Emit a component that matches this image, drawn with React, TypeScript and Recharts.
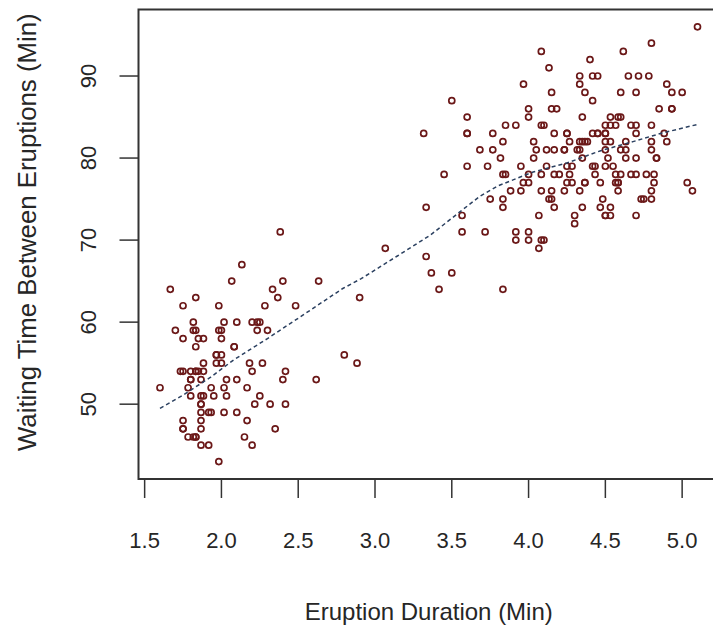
import React from 'react';
import { ScatterChart, Scatter, XAxis, YAxis, ReferenceArea, Label } from 'recharts';

// Old Faithful: eruption duration (min) and waiting time (min)
const eruptions = [
  3.6, 1.8, 3.333, 2.283, 4.533, 2.883, 4.7, 3.6, 1.95, 4.35, 1.833, 3.917, 4.2, 1.75, 4.7, 2.167, 1.75, 4.8, 1.6, 4.25,
  1.8, 1.75, 3.45, 3.067, 4.533, 3.6, 1.967, 4.083, 3.85, 4.433, 4.3, 4.467, 3.367, 4.033, 3.833, 2.017, 1.867, 4.833, 1.833, 4.783,
  4.35, 1.883, 4.567, 1.75, 4.533, 3.317, 3.833, 2.1, 4.633, 2.0, 4.8, 4.716, 1.833, 4.833, 1.733, 4.883, 3.717, 1.667, 4.567, 4.317,
  2.233, 4.5, 1.75, 4.8, 1.817, 4.4, 4.167, 4.7, 2.067, 4.7, 4.033, 1.967, 4.5, 4.0, 1.983, 5.067, 2.017, 4.567, 3.883, 3.6,
  4.133, 4.333, 4.1, 2.633, 4.067, 4.933, 3.95, 4.517, 2.167, 4.0, 2.2, 4.333, 1.867, 4.817, 1.833, 4.3, 4.667, 3.75, 1.867, 4.9,
  2.483, 4.367, 2.1, 4.5, 4.05, 1.867, 4.7, 1.783, 4.85, 3.683, 4.733, 2.3, 4.9, 4.417, 1.7, 4.633, 2.317, 4.6, 1.817, 4.417,
  2.617, 4.067, 4.25, 1.967, 4.6, 3.767, 1.917, 4.5, 2.267, 4.65, 1.867, 4.167, 2.8, 4.333, 1.833, 4.383, 1.883, 4.933, 2.033, 3.733,
  4.233, 2.233, 4.533, 4.817, 4.333, 1.983, 4.633, 2.017, 5.1, 1.8, 5.033, 4.0, 2.4, 4.6, 3.567, 4.0, 4.5, 4.083, 1.8, 3.967,
  2.2, 4.15, 2.0, 3.833, 3.5, 4.583, 2.367, 5.0, 1.933, 4.617, 1.917, 2.083, 4.583, 3.333, 4.167, 4.333, 4.5, 2.417, 4.0, 4.167,
  1.883, 4.583, 4.25, 3.767, 2.033, 4.433, 4.083, 1.833, 4.417, 2.183, 4.8, 1.833, 4.8, 4.1, 3.966, 4.233, 3.5, 4.366, 2.25, 4.667,
  2.1, 4.35, 4.133, 1.867, 4.6, 1.783, 4.367, 3.85, 1.933, 4.5, 2.383, 4.7, 1.867, 3.833, 3.417, 4.233, 2.4, 4.8, 2.0, 4.15,
  1.867, 4.267, 1.75, 4.483, 4.0, 4.117, 4.083, 4.267, 3.917, 4.55, 4.083, 2.417, 4.183, 2.217, 4.45, 1.883, 1.85, 4.283, 3.95, 2.333,
  4.15, 2.35, 4.933, 2.9, 4.583, 3.833, 2.083, 4.367, 2.133, 4.35, 2.2, 4.45, 3.567, 4.5, 4.15, 3.817, 3.917, 4.45, 2.0, 4.283,
  4.767, 4.533, 1.85, 4.25, 1.983, 2.25, 4.75, 4.117, 2.15, 4.417, 1.817, 4.467,
];
const waiting = [
  79, 54, 74, 62, 85, 55, 88, 85, 51, 85, 54, 84, 78, 47, 83, 52, 62, 84, 52, 79,
  51, 47, 78, 69, 74, 83, 55, 76, 78, 79, 73, 77, 66, 80, 74, 52, 48, 80, 59, 90,
  80, 58, 84, 58, 73, 83, 64, 53, 82, 59, 75, 90, 54, 80, 54, 83, 71, 64, 77, 81,
  59, 84, 48, 82, 60, 92, 78, 78, 65, 73, 82, 56, 79, 71, 62, 76, 60, 78, 76, 83,
  75, 82, 70, 65, 73, 88, 76, 80, 48, 86, 60, 90, 50, 78, 63, 72, 84, 75, 51, 82,
  62, 88, 49, 83, 81, 47, 84, 52, 86, 81, 75, 59, 89, 79, 59, 81, 50, 85, 59, 87,
  53, 69, 77, 56, 88, 81, 45, 82, 55, 90, 45, 83, 56, 89, 46, 82, 51, 86, 53, 79,
  81, 60, 82, 77, 76, 59, 80, 49, 96, 53, 77, 77, 65, 81, 71, 70, 81, 93, 53, 89,
  45, 86, 58, 78, 66, 76, 63, 88, 52, 93, 49, 57, 77, 68, 81, 81, 73, 50, 85, 74,
  55, 77, 83, 83, 51, 78, 84, 46, 83, 55, 81, 57, 76, 84, 77, 81, 87, 77, 51, 78,
  60, 82, 91, 53, 78, 46, 77, 84, 49, 83, 71, 80, 49, 75, 64, 76, 53, 94, 55, 76,
  50, 82, 54, 75, 78, 79, 78, 78, 70, 79, 70, 54, 86, 50, 90, 54, 54, 77, 79, 64,
  75, 47, 86, 63, 85, 82, 57, 82, 67, 74, 54, 83, 73, 73, 88, 80, 71, 83, 56, 79,
  78, 84, 58, 83, 43, 60, 75, 81, 46, 90, 46, 74,
];

// Smoothed (dashed) curve
const smoothX = [1.6, 1.75, 1.93, 2.08, 2.3, 2.51, 2.79, 2.91, 3.14, 3.36, 3.55, 3.68, 3.8, 3.92, 4.03, 4.25, 4.47, 4.68, 4.86, 5.1];
const smoothY = [49.5, 51.1, 53.3, 55.4, 58.0, 60.6, 64.1, 65.3, 68.0, 70.6, 73.4, 75.3, 76.6, 77.5, 78.3, 79.4, 80.9, 82.0, 83.0, 84.1];

const xTicks = [1.5, 2.0, 2.5, 3.0, 3.5, 4.0, 4.5, 5.0];
const yTicks = [50, 60, 70, 80, 90];
const xDomain = [1.46, 5.24];
const yDomain = [40.88, 98.12];

const points = eruptions.map((e, i) => ({ x: e, y: waiting[i] }));
const smooth = smoothX.map((x, i) => ({ x, y: smoothY[i] }));

const FONT = 'Arial, "Liberation Sans", sans-serif';
const TEXT = '#262626';
const AXIS = '#333';

const Ring = (p: any) => (
  <circle cx={p.cx} cy={p.cy} r={3} fill="none" stroke="#6b1818" strokeWidth={1.7} />
);
const NoShape = () => <g />;

const YTick = (p: any) => {
  const { x, y, payload } = p;
  return (
    <text x={x} y={y} transform={`rotate(-90, ${x}, ${y})`} textAnchor="middle" dy="0.36em"
      fill={TEXT} fontSize={22} fontFamily={FONT}>
      {payload.value}
    </text>
  );
};

const XTitle = (p: any) => {
  const vb = p.viewBox || {};
  return (
    <text x={vb.x + vb.width / 2} y={vb.y + 141} textAnchor="middle" fill={TEXT} fontSize={24} fontFamily={FONT}>
      Eruption Duration (Min)
    </text>
  );
};

const YTitle = (p: any) => {
  const vb = p.viewBox || {};
  const cx = vb.x + 27;
  const cy = vb.y + vb.height / 2 - 12;
  return (
    <text x={cx} y={cy} transform={`rotate(-90, ${cx}, ${cy})`} textAnchor="middle" dy="0.36em"
      fill={TEXT} fontSize={25.8} fontFamily={FONT}>
      Waiting Time Between Eruptions (Min)
    </text>
  );
};

export default function App() {
  return (
    <div style={{ position: 'absolute', left: 0, top: 0, width: 713, height: 626, overflow: 'hidden', background: '#fff' }}>
      <ScatterChart width={730} height={626} margin={{ top: 9.4, right: 11, bottom: 0, left: 0 }}>
        <XAxis type="number" dataKey="x" domain={xDomain} ticks={xTicks} allowDataOverflow
          tickFormatter={(v: number) => v.toFixed(1)} axisLine={false}
          tickLine={{ stroke: AXIS, strokeWidth: 1.5 }} tickSize={19} tickMargin={34}
          tick={{ fill: TEXT, fontSize: 22, fontFamily: FONT }} height={147}>
          <Label content={<XTitle />} />
        </XAxis>
        <YAxis type="number" dataKey="y" domain={yDomain} ticks={yTicks} allowDataOverflow
          axisLine={false} tickLine={{ stroke: AXIS, strokeWidth: 1.5 }} tickSize={19} tickMargin={31.5}
          tick={<YTick />} width={138.5}>
          <Label content={<YTitle />} />
        </YAxis>
        <ReferenceArea x1={xDomain[0]} x2={xDomain[1]} y1={yDomain[0]} y2={yDomain[1]}
          fill="none" fillOpacity={0} stroke={AXIS} strokeWidth={2} ifOverflow="visible" />
        <Scatter data={points} shape={<Ring />} isAnimationActive={false} />
        <Scatter data={smooth} shape={<NoShape />} line={{ stroke: '#2b4060', strokeWidth: 1.5, strokeDasharray: '4 3' }}
          lineType="joint" isAnimationActive={false} />
      </ScatterChart>
    </div>
  );
}
